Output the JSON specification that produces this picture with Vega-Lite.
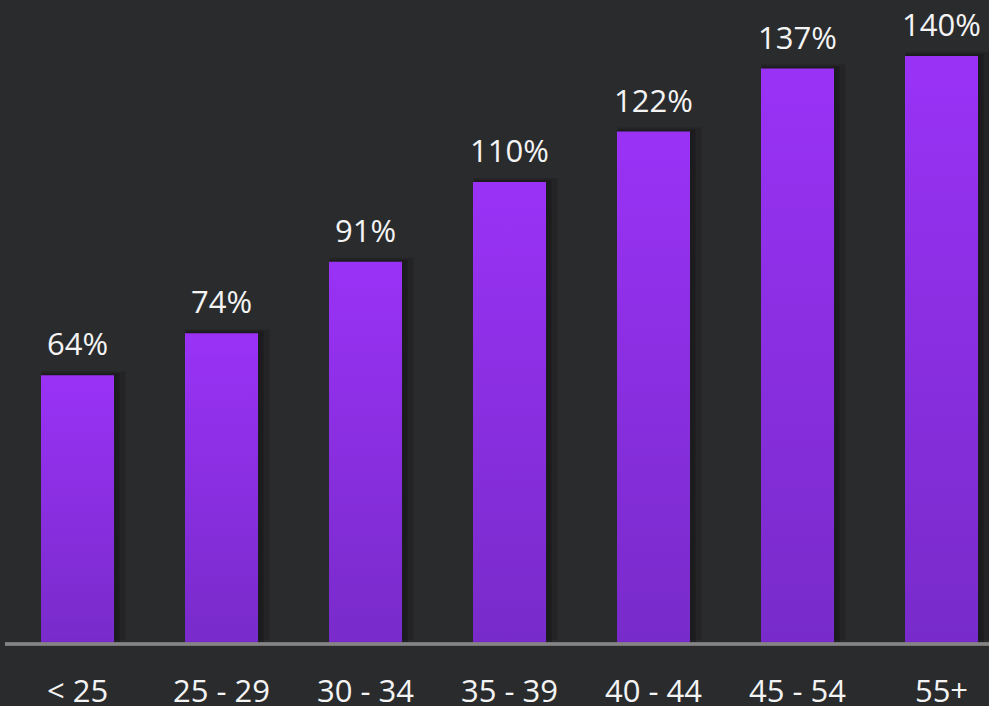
{
  "$schema": "https://vega.github.io/schema/vega-lite/v6.json",
  "autosize": {"type": "none"},
  "width": 984,
  "height": 630,
  "padding": {"left": 5, "top": 14, "right": 0, "bottom": 62},
  "background": "#2a2b2d",
  "config": {
    "view": {"stroke": null},
    "font": "Open Sans"
  },
  "data": {
    "values": [
      {"age": "< 25", "pct": 64, "label": "64%"},
      {"age": "25 - 29", "pct": 74, "label": "74%"},
      {"age": "30 - 34", "pct": 91, "label": "91%"},
      {"age": "35 - 39", "pct": 110, "label": "110%"},
      {"age": "40 - 44", "pct": 122, "label": "122%"},
      {"age": "45 - 54", "pct": 137, "label": "137%"},
      {"age": "55+", "pct": 140, "label": "140%"}
    ]
  },
  "encoding": {
    "x": {
      "field": "age",
      "type": "nominal",
      "sort": null,
      "scale": {"paddingInner": 0.493, "paddingOuter": 0, "range": [36, 973]},
      "axis": {
        "title": null,
        "labelAngle": 0,
        "labelFont": "Open Sans",
        "labelFontSize": 31,
        "labelFontWeight": 400,
        "labelColor": "#f4f4f4",
        "labelBaseline": "alphabetic",
        "labelPadding": 57,
        "ticks": false,
        "tickSize": 0,
        "domain": false,
        "grid": false
      }
    },
    "y": {
      "field": "pct",
      "type": "quantitative",
      "scale": {"domain": [0, 150], "nice": false},
      "axis": null
    }
  },
  "layer": [
    {
      "mark": {"type": "bar", "color": "#000000", "opacity": 0.14, "xOffset": 6, "yOffset": -4, "width": 84}
    },
    {
      "mark": {"type": "bar", "color": "#000000", "opacity": 0.2, "xOffset": 3, "yOffset": -2, "width": 78}
    },
    {
      "mark": {
        "type": "bar",
        "color": {
          "gradient": "linear",
          "x1": 0, "y1": 0, "x2": 0, "y2": 1,
          "stops": [
            {"offset": 0, "color": "#9a32f6"},
            {"offset": 1, "color": "#782bca"}
          ]
        }
      }
    },
    {
      "mark": {"type": "rule", "color": "#858585", "strokeWidth": 2.5},
      "encoding": {
        "x": null,
        "y": {"datum": 0}
      }
    },
    {
      "mark": {
        "type": "text",
        "font": "Open Sans",
        "fontSize": 31,
        "fontWeight": 400,
        "color": "#f4f4f4",
        "baseline": "alphabetic",
        "dy": -20
      },
      "encoding": {
        "text": {"field": "label", "type": "nominal"}
      }
    }
  ]
}
